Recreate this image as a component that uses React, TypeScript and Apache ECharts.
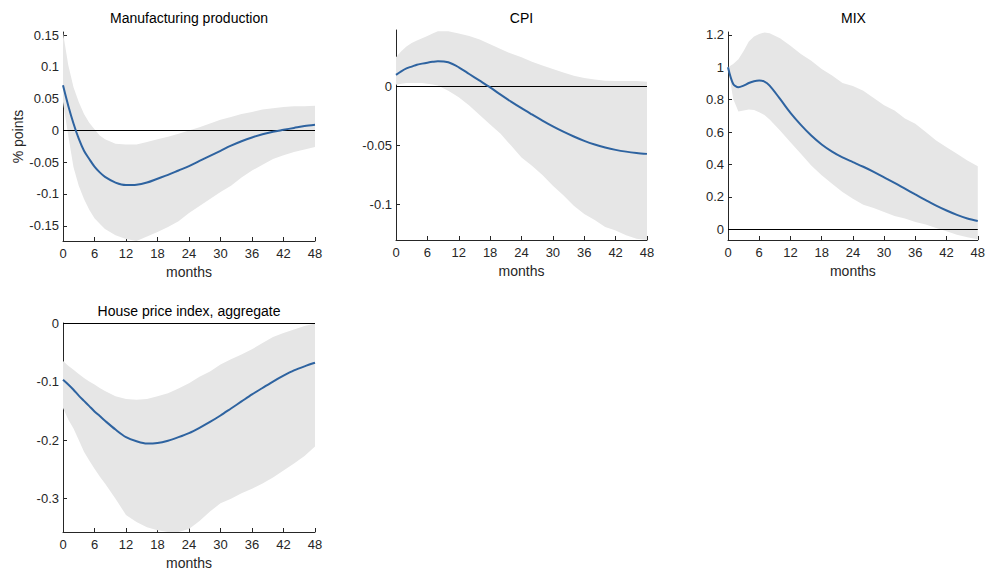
import React, { useEffect, useRef } from "react";
import * as echarts from "echarts";

const months = [0, 1, 2, 3, 4, 5, 6, 7, 8, 10, 12, 14, 16, 18, 20, 22, 24, 26, 28, 30, 32, 34, 36, 38, 40, 42, 44, 46, 48];
const xTicks = [0, 6, 12, 18, 24, 30, 36, 42, 48];

// Manufacturing production
const mfgLine = [0.071, 0.039, 0.011, -0.013, -0.032, -0.045, -0.057, -0.066, -0.073, -0.082, -0.086, -0.0855, -0.082, -0.076, -0.070, -0.063, -0.056, -0.048, -0.040, -0.032, -0.024, -0.017, -0.011, -0.006, -0.002, 0.001, 0.004, 0.007, 0.009];
const mfgUpper = [0.154, 0.103, 0.068, 0.045, 0.026, 0.012, 0.002, -0.008, -0.014, -0.021, -0.022, -0.022, -0.018, -0.014, -0.010, -0.005, 0.000, 0.005, 0.011, 0.017, 0.021, 0.026, 0.029, 0.033, 0.035, 0.037, 0.038, 0.038, 0.039];
const mfgLower = [0.045, -0.008, -0.058, -0.087, -0.108, -0.125, -0.138, -0.147, -0.155, -0.165, -0.171, -0.174, -0.167, -0.160, -0.152, -0.143, -0.130, -0.119, -0.108, -0.097, -0.087, -0.074, -0.063, -0.054, -0.045, -0.039, -0.034, -0.030, -0.026];
const mfgTicks = [-0.15, -0.1, -0.05, 0, 0.05, 0.1, 0.15];

// CPI
const cpiLine = [0.010, 0.013, 0.0155, 0.017, 0.0186, 0.0195, 0.0203, 0.021, 0.0215, 0.0206, 0.0164, 0.0107, 0.0051, -0.0006, -0.0068, -0.0127, -0.0183, -0.0236, -0.0288, -0.0337, -0.0382, -0.0423, -0.046, -0.0491, -0.0516, -0.0536, -0.0551, -0.0562, -0.057];
const cpiUpper = [0.025, 0.030, 0.034, 0.037, 0.039, 0.041, 0.043, 0.045, 0.047, 0.047, 0.045, 0.043, 0.040, 0.036, 0.032, 0.028, 0.025, 0.021, 0.018, 0.015, 0.012, 0.0093, 0.0073, 0.006, 0.005, 0.0048, 0.0048, 0.0048, 0.0042];
const cpiLower = [0.0015, 0.0025, 0.003, 0.003, 0.003, 0.003, 0.0025, 0.0018, 0.001, -0.0034, -0.009, -0.016, -0.024, -0.032, -0.040, -0.050, -0.060, -0.067, -0.075, -0.084, -0.092, -0.101, -0.108, -0.113, -0.119, -0.122, -0.126, -0.129, -0.130];
const cpiTicks = [-0.1, -0.05, 0];

// MIX
const mixLine = [1.0, 0.897, 0.877, 0.887, 0.903, 0.914, 0.918, 0.912, 0.887, 0.805, 0.719, 0.645, 0.579, 0.524, 0.480, 0.444, 0.415, 0.386, 0.355, 0.321, 0.287, 0.251, 0.215, 0.180, 0.146, 0.116, 0.089, 0.067, 0.051];
const mixUpper = [1.0, 1.02, 1.05, 1.10, 1.16, 1.19, 1.205, 1.215, 1.21, 1.18, 1.133, 1.082, 1.041, 0.99, 0.949, 0.903, 0.885, 0.856, 0.810, 0.766, 0.733, 0.684, 0.651, 0.600, 0.548, 0.507, 0.466, 0.425, 0.39];
const mixLower = [1.0, 0.805, 0.727, 0.733, 0.739, 0.737, 0.723, 0.706, 0.678, 0.61, 0.538, 0.466, 0.394, 0.333, 0.281, 0.23, 0.189, 0.152, 0.131, 0.107, 0.082, 0.066, 0.045, 0.029, 0.008, -0.012, -0.033, -0.049, -0.062];
const mixTicks = [0, 0.2, 0.4, 0.6, 0.8, 1, 1.2];

// House price index, aggregate
const hpiLine = [-0.097, -0.105, -0.114, -0.124, -0.133, -0.142, -0.151, -0.159, -0.167, -0.182, -0.195, -0.202, -0.206, -0.205, -0.201, -0.195, -0.188, -0.179, -0.169, -0.158, -0.146, -0.134, -0.122, -0.111, -0.100, -0.090, -0.081, -0.074, -0.068];
const hpiUpper = [-0.065, -0.073, -0.080, -0.087, -0.094, -0.100, -0.105, -0.111, -0.116, -0.125, -0.130, -0.131, -0.130, -0.125, -0.120, -0.112, -0.103, -0.092, -0.083, -0.071, -0.062, -0.054, -0.045, -0.034, -0.024, -0.017, -0.011, -0.005, -0.001];
const hpiLower = [-0.145, -0.165, -0.18, -0.20, -0.22, -0.235, -0.249, -0.262, -0.274, -0.30, -0.328, -0.340, -0.349, -0.354, -0.357, -0.357, -0.352, -0.338, -0.322, -0.308, -0.300, -0.291, -0.283, -0.274, -0.264, -0.252, -0.240, -0.227, -0.211];
const hpiTicks = [-0.3, -0.2, -0.1, 0];

const titles = ["Manufacturing production", "CPI", "MIX", "House price index, aggregate"];
const yRanges = [
  [-0.174, 0.155],
  [-0.13, 0.048],
  [-0.066, 1.218],
  [-0.357, 0],
];

const FONT = "Liberation Sans, Arial, Helvetica, sans-serif";
const AXIS_COLOR = "#262626";
const LINE_COLOR = "#2e63a0";
const BAND_COLOR = "#e6e6e6";

const grids = [
  { left: 63, top: 32, width: 252, height: 209 },
  { left: 396, top: 30, width: 251, height: 210 },
  { left: 728, top: 32, width: 251, height: 208 },
  { left: 63, top: 323, width: 252, height: 209 },
];

const fmt = (v: number) => String(parseFloat(Number(v).toFixed(4)));

export default function App() {
  const ref = useRef<HTMLDivElement>(null);
  useEffect(() => {
    if (!ref.current) return;
    const chart = echarts.init(ref.current, undefined, { renderer: "svg" });
    const panels = [
      { line: mfgLine, upper: mfgUpper, lower: mfgLower, ticks: mfgTicks },
      { line: cpiLine, upper: cpiUpper, lower: cpiLower, ticks: cpiTicks },
      { line: mixLine, upper: mixUpper, lower: mixLower, ticks: mixTicks },
      { line: hpiLine, upper: hpiUpper, lower: hpiLower, ticks: hpiTicks },
    ];
    const xAxis: any[] = [];
    const yAxis: any[] = [];
    const series: any[] = [];
    const graphic: any[] = [];
    panels.forEach((p, i) => {
      const g = grids[i];
      xAxis.push({
        type: "value",
        gridIndex: i,
        min: 0,
        max: 48,
        interval: 6,
        name: "months",
        nameLocation: "middle",
        nameGap: 24,
        nameTextStyle: { fontFamily: FONT, fontSize: 14, color: AXIS_COLOR },
        axisLine: { onZero: false, lineStyle: { color: AXIS_COLOR, width: 1 } },
        axisTick: { inside: true, length: 4, lineStyle: { color: AXIS_COLOR }, customValues: xTicks },
        axisLabel: { fontFamily: FONT, fontSize: 13, color: AXIS_COLOR, margin: 6, customValues: xTicks },
        splitLine: { show: false },
      });
      yAxis.push({
        type: "value",
        gridIndex: i,
        min: yRanges[i][0],
        max: yRanges[i][1],
        name: i === 0 ? "% points" : "",
        nameLocation: "middle",
        nameGap: 38,
        nameTextStyle: { fontFamily: FONT, fontSize: 14, color: AXIS_COLOR },
        axisLine: { show: true, onZero: false, lineStyle: { color: AXIS_COLOR, width: 1 } },
        axisTick: { show: true, inside: true, length: 4, lineStyle: { color: AXIS_COLOR }, customValues: p.ticks },
        axisLabel: {
          fontFamily: FONT,
          fontSize: 13,
          color: AXIS_COLOR,
          margin: 4,
          customValues: p.ticks,
          formatter: (v: number) => fmt(v),
        },
        splitLine: { show: false },
      });
      const upper = p.upper;
      const lower = p.lower;
      series.push({
        type: "custom",
        xAxisIndex: i,
        yAxisIndex: i,
        data: [[0, 0]],
        silent: true,
        z: 1,
        renderItem: (_params: any, api: any) => {
          const top = months.map((m, k) => api.coord([m, upper[k]]));
          const bottom = months.map((m, k) => api.coord([m, lower[k]])).reverse();
          return {
            type: "polygon",
            shape: { points: top.concat(bottom) },
            style: { fill: BAND_COLOR, stroke: "none" },
          };
        },
      });
      series.push({
        type: "line",
        xAxisIndex: i,
        yAxisIndex: i,
        data: months.map((m, k) => [m, p.line[k]]),
        symbol: "none",
        smooth: 0.3,
        lineStyle: { color: LINE_COLOR, width: 2 },
        z: 3,
        markLine: {
          silent: true,
          symbol: ["none", "none"],
          label: { show: false },
          lineStyle: { color: "#000", width: 1, type: "solid" },
          data: [{ yAxis: 0 }],
          z: 2,
        },
      });
      graphic.push({
        type: "text",
        x: g.left + g.width / 2,
        y: i === 3 ? 311 : 18,
        style: {
          text: titles[i],
          fontFamily: FONT,
          fontSize: 14,
          fill: "#000",
          textAlign: "center",
          textVerticalAlign: "middle",
        },
      });
    });
    chart.setOption({
      animation: false,
      backgroundColor: "#fff",
      grid: grids.map((g) => ({ ...g, containLabel: false })),
      xAxis,
      yAxis,
      series,
      graphic,
    });
    return () => chart.dispose();
  }, []);
  return (
    <div
      ref={ref}
      style={{ position: "absolute", left: 0, top: 0, width: 988, height: 574 }}
    />
  );
}
